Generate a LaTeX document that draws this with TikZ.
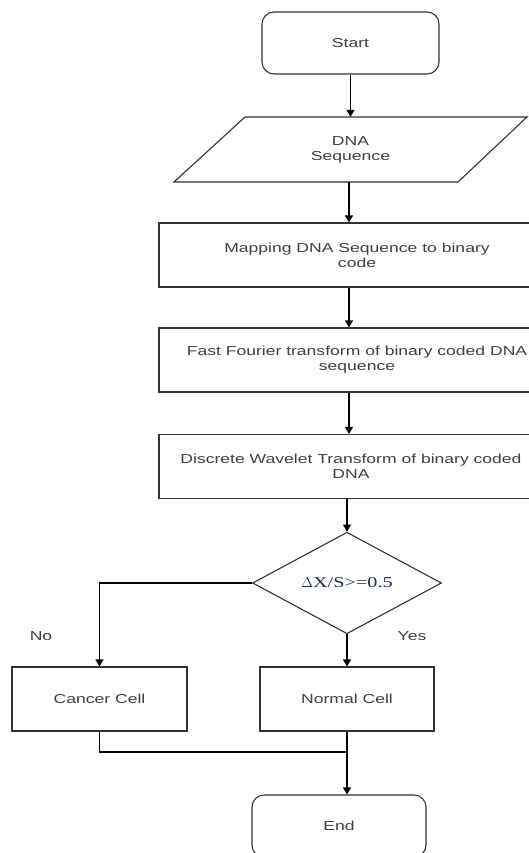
\documentclass[tikz,border=0pt]{standalone}
\usepackage{fontspec}
\setmainfont{Liberation Sans}[FakeStretch=1.35]
\newfontfamily\condfont{Liberation Serif}[FakeStretch=1.35]
\usetikzlibrary{shapes.geometric,arrows.meta}

\definecolor{linegray}{HTML}{333333}
\definecolor{textgray}{HTML}{404040}
\definecolor{mathblue}{HTML}{1C2A4A}

% push a centred line a little to the right
\newcommand{\nudge}{\hspace*{16pt}}

\tikzset{
  terminal/.style={draw=linegray, line width=1.1pt, rounded corners=12pt,
    minimum width=175pt, minimum height=62pt, inner sep=0pt},
  process/.style={draw=linegray, line width=1.1pt,
    minimum width=175pt, minimum height=64pt, inner sep=0pt, align=center},
  decision/.style={draw=linegray, line width=1.1pt, shape=diamond,
    minimum width=189pt, minimum height=84pt, inner sep=0pt},
  flowline/.style={draw=black, line width=1.1pt, -{Triangle[width=8pt,length=7pt]}},
  joinline/.style={draw=black, line width=1.1pt}
}

\begin{document}
\begin{tikzpicture}[x=1pt, y=-1pt, font=\fontsize{13}{15}\selectfont, text=textgray]
    \useasboundingbox (0, 0) rectangle (529, 853);
    \clip (0, 0) rectangle (529, 853);
    % Start
    \node[terminal, minimum width=177pt] (start) at (350.5, 43) {Start};
    % Input: DNA sequence
    \node[minimum height=65pt, minimum width=284pt, inner sep=0pt, align=center] (dna) at (350.5, 149.5) {DNA\\Sequence};
    \draw[linegray, line width=1.1pt] (174, 182) -- (245, 117) -- (527, 117) -- (458, 182) -- cycle;
    % Processing steps
    \node[process, minimum width=380pt] (map) at (349, 255) {\nudge Mapping DNA Sequence to binary\\\nudge code};
    \node[process, minimum width=380pt] (fft) at (349, 360) {\nudge Fast Fourier transform of binary coded DNA\\\nudge sequence};
    \node[process, minimum width=380pt] (dwt) at (349, 466.5) {\hspace*{4pt}Discrete Wavelet Transform of binary coded\\\hspace*{4pt}DNA};
    % Decision
    \node[decision] (dec) at (347, 583) {\condfont\fontsize{15}{17}\selectfont\color{mathblue}$\Delta$X/S>=0.5};
    % Outcomes
    \node[process] (cancer) at (99.5, 699) {Cancer Cell};
    \node[process, minimum width=174pt] (normal) at (347, 699) {Normal Cell};
    \node[terminal, minimum width=174pt] (end) at (339, 826) {End};
    % Branch labels
    \node (no) at (41, 636) {No};
    \node (yes) at (412, 636) {Yes};
    \coordinate (join) at (347, 752);
    % Connectors
    \draw[flowline] (start) -- (dna);
    \draw[flowline] (dna.south -| map.north) -- (map.north);
    \draw[flowline] (map) -- (fft);
    \draw[flowline] (fft) -- (dwt);
    \draw[flowline] (dwt.south -| dec.north) -- (dec.north);
    \draw[flowline] (dec.west) -| (cancer.north);
    \draw[flowline] (dec.south) -- (normal.north);
    \draw[joinline] (cancer.south) |- (join);
    \draw[flowline] (normal.south) -- (normal.south |- end.north);
\end{tikzpicture}
\end{document}
